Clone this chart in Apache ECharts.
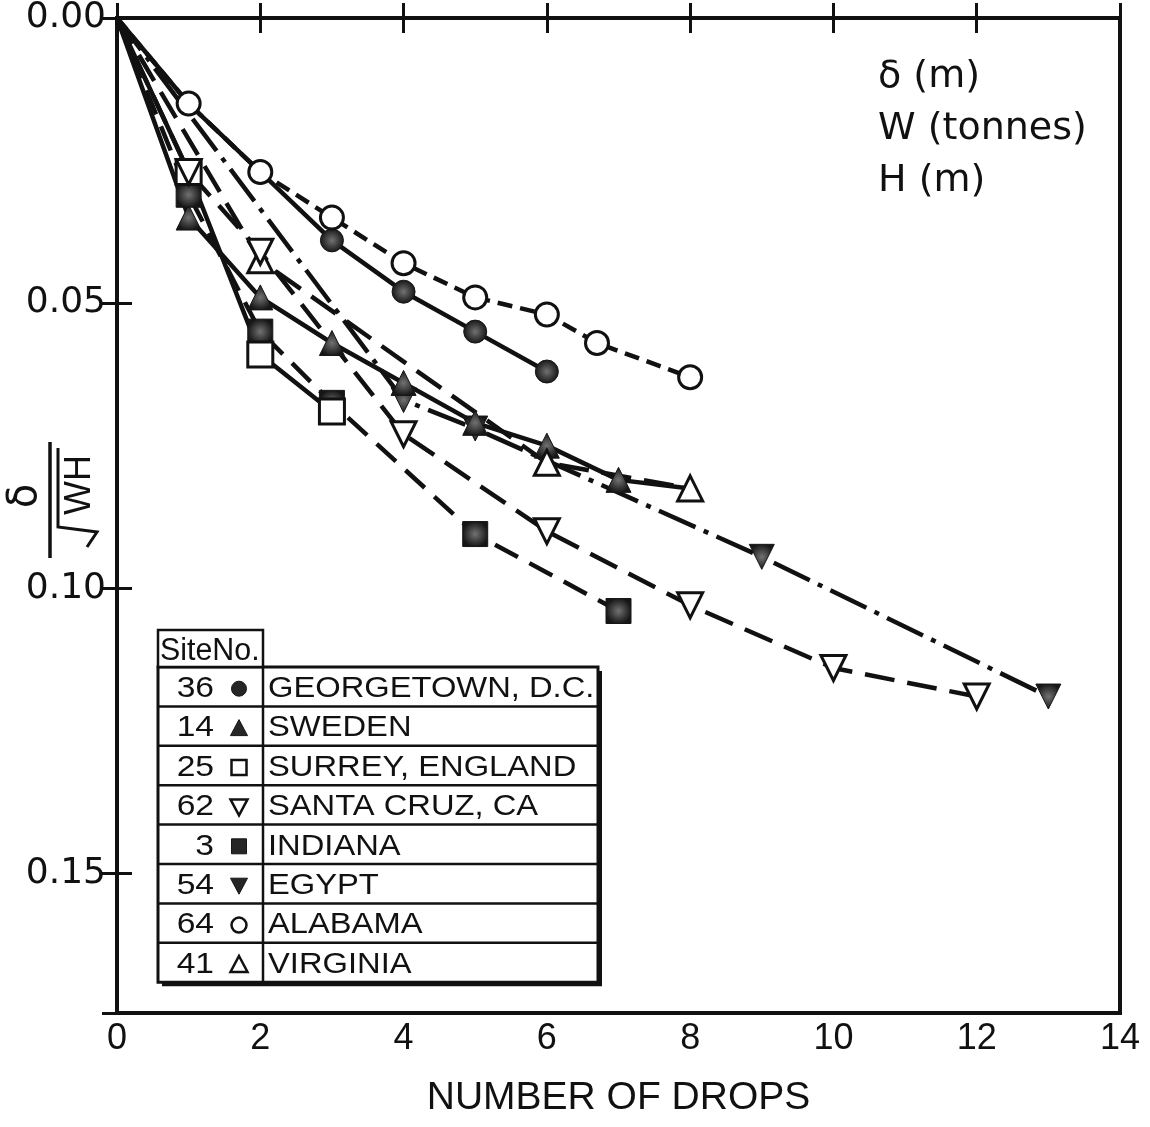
<!DOCTYPE html>
<html>
<head>
<meta charset="utf-8">
<script src="https://cdn.jsdelivr.net/npm/echarts@6/dist/echarts.min.js"></script>
<style>
html, body { margin: 0; padding: 0; background: #ffffff; }
#chart { width: 1150px; height: 1127px; }
</style>
</head>
<body>
<div id="chart"></div>
<script>
// Normalised settlement delta / sqrt(W*H) against number of drops, per site.
const xTicks = [0, 2, 4, 6, 8, 10, 12, 14];
const yTicks = [0.00, 0.05, 0.10, 0.15];

const siteNumbers = ['36', '14', '25', '62', '3', '54', '64', '41'];
const siteNames = ['GEORGETOWN, D.C.', 'SWEDEN', 'SURREY, ENGLAND', 'SANTA CRUZ, CA',
                   'INDIANA', 'EGYPT', 'ALABAMA', 'VIRGINIA'];

const georgetownDrops = [0, 1, 2, 3, 4, 5, 6];
const georgetownValues = [0, 0.015, 0.027, 0.039, 0.048, 0.055, 0.062];

const swedenDrops = [0, 1, 2, 3, 4, 5, 6, 7, 8];
const swedenValues = [0, 0.035, 0.049, 0.057, 0.064, 0.071, 0.075, 0.081, 0.0825];

const surreyDrops = [0, 1, 2, 3];
const surreyValues = [0, 0.027, 0.059, 0.069];

const santaCruzDrops = [0, 1, 2, 4, 6, 8, 10, 12];
const santaCruzValues = [0, 0.027, 0.041, 0.073, 0.090, 0.103, 0.114, 0.119];

const indianaDrops = [0, 1, 2, 3, 5, 7];
const indianaValues = [0, 0.031, 0.055, 0.0675, 0.0905, 0.104];

const egyptDrops = [0, 4, 5, 9, 13];
const egyptValues = [0, 0.067, 0.072, 0.0945, 0.119];

const alabamaDrops = [0, 1, 2, 3, 4, 5, 6, 6.7, 8];
const alabamaValues = [0, 0.015, 0.027, 0.035, 0.043, 0.049, 0.052, 0.057, 0.063];

const virginiaDrops = [0, 2, 6, 8];
const virginiaValues = [0, 0.0425, 0.078, 0.0825];

// ---- styling ----
const INK = '#111111';
const halftone = {
  type: 'radial', x: 0.5, y: 0.5, r: 0.5,
  colorStops: [
    { offset: 0, color: '#727272' },
    { offset: 0.6, color: '#3a3a3a' },
    { offset: 1, color: '#161616' }
  ]
};
const filled = { color: halftone, borderColor: '#161616', borderWidth: 1 };
const hollow = { color: '#ffffff', borderColor: INK, borderWidth: 3 };

const DASH_LONG = [30, 13];
const DASH_MED = [26, 13];
const DASH_SHORT = [15, 8];
const DASH_DOT = [40, 9, 5, 9];

function pairs(xs, ys) {
  return xs.map((x, i) => i === 0 ? { value: [x, ys[i]], symbol: 'none' } : [x, ys[i]]);
}

function site(name, xs, ys, symbol, rotate, item, dash) {
  return {
    name: name,
    type: 'line',
    data: pairs(xs, ys),
    symbol: symbol,
    symbolSize: symbol === 'circle' ? 23 : 25,
    symbolRotate: rotate,
    itemStyle: item,
    lineStyle: { color: INK, width: 4.5, type: dash },
    emphasis: { disabled: true },
    clip: false,
    z: 3
  };
}

const series = [
  site(siteNames[0], georgetownDrops, georgetownValues, 'circle', 0, filled, 'solid'),
  site(siteNames[6], alabamaDrops, alabamaValues, 'circle', 0, hollow, DASH_SHORT),
  site(siteNames[5], egyptDrops, egyptValues, 'triangle', 180, filled, DASH_DOT),
  site(siteNames[1], swedenDrops, swedenValues, 'triangle', 0, filled, 'solid'),
  site(siteNames[4], indianaDrops, indianaValues, 'rect', 0, filled, DASH_MED),
  site(siteNames[2], surreyDrops, surreyValues, 'rect', 0, hollow, 'solid'),
  site(siteNames[7], virginiaDrops, virginiaValues, 'triangle', 0, hollow, DASH_LONG),
  site(siteNames[3], santaCruzDrops, santaCruzValues, 'triangle', 180, hollow, DASH_LONG)
];

// ---- key table (site number, symbol, site name) ----
const table = { left: 158, right: 598, top: 667, rowH: 39.4, numX: 214, symX: 239, nameX: 268, divX: 263 };
const keySymbols = [
  { shape: 'circle', fill: true },
  { shape: 'up', fill: true },
  { shape: 'square', fill: false },
  { shape: 'down', fill: false },
  { shape: 'square', fill: true },
  { shape: 'down', fill: true },
  { shape: 'circle', fill: false },
  { shape: 'up', fill: false }
];

function keySymbol(k, cx, cy) {
  const style = k.fill ? { fill: '#262626', stroke: '#161616', lineWidth: 1 }
                       : { fill: '#ffffff', stroke: INK, lineWidth: 2.5 };
  const s = 7.5;
  if (k.shape === 'circle') return { type: 'circle', shape: { cx: cx, cy: cy, r: s }, style: style, z: 20 };
  if (k.shape === 'square') return { type: 'rect', shape: { x: cx - s, y: cy - s, width: 2 * s, height: 2 * s }, style: style, z: 20 };
  if (k.shape === 'up') return { type: 'polygon', shape: { points: [[cx, cy - s - 1], [cx + s + 1, cy + s], [cx - s - 1, cy + s]] }, style: style, z: 20 };
  return { type: 'polygon', shape: { points: [[cx - s - 1, cy - s], [cx + s + 1, cy - s], [cx, cy + s + 1]] }, style: style, z: 20 };
}

const keyGraphics = [];
const tableBottom = table.top + table.rowH * siteNames.length;
// drop shadow
keyGraphics.push({ type: 'rect', shape: { x: table.left + 4, y: table.top + 4, width: table.right - table.left, height: tableBottom - table.top },
  style: { fill: INK }, z: 18 });
keyGraphics.push({ type: 'rect', shape: { x: table.left, y: table.top, width: table.right - table.left, height: tableBottom - table.top },
  style: { fill: '#ffffff', stroke: INK, lineWidth: 3 }, z: 19 });
// header cell
keyGraphics.push({ type: 'rect', shape: { x: table.left, y: 630, width: table.divX - table.left, height: table.top - 630 },
  style: { fill: '#ffffff', stroke: INK, lineWidth: 2.5 }, z: 19 });
keyGraphics.push({ type: 'text', x: table.left + 2, y: 651, scaleX: 0.98,
  style: { text: 'SiteNo.', font: '31px "Liberation Sans"', fill: INK, align: 'left', verticalAlign: 'middle' }, z: 20 });
// column divider
keyGraphics.push({ type: 'line', shape: { x1: table.divX, y1: table.top, x2: table.divX, y2: tableBottom },
  style: { stroke: INK, lineWidth: 2.5 }, z: 20 });
for (let i = 0; i < siteNames.length; i++) {
  const cy = table.top + table.rowH * (i + 0.5);
  if (i > 0) {
    const ly = table.top + table.rowH * i;
    keyGraphics.push({ type: 'line', shape: { x1: table.left, y1: ly, x2: table.right, y2: ly },
      style: { stroke: INK, lineWidth: 2.5 }, z: 20 });
  }
  keyGraphics.push({ type: 'text', x: table.numX, y: cy + 2, scaleX: 1.12,
    style: { text: siteNumbers[i], font: '30px "Liberation Sans"', fill: INK, align: 'right', verticalAlign: 'middle' }, z: 20 });
  keyGraphics.push(keySymbol(keySymbols[i], table.symX, cy + 2));
  keyGraphics.push({ type: 'text', x: table.nameX, y: cy + 2, scaleX: 1.09,
    style: { text: siteNames[i], font: '30px "Liberation Sans"', fill: INK, align: 'left', verticalAlign: 'middle' }, z: 20 });
}

// units note, upper right
const unitLines = ['\u03b4 (m)', 'W (tonnes)', 'H (m)'];
const unitGraphics = unitLines.map((t, i) => ({
  type: 'text', x: 878, y: 77 + i * 52,
  style: { text: t, font: '38px "DejaVu Sans"', fill: INK, align: 'left', verticalAlign: 'middle' }, z: 20
}));

// rotated y-axis title: delta over sqrt(WH)
const yTitle = {
  type: 'group', x: 50, y: 500, rotation: Math.PI / 2, z: 20,
  children: [
    { type: 'text', x: 4, y: -24, style: { text: '\u03b4', font: '40px "DejaVu Sans"', fill: INK, align: 'center', verticalAlign: 'middle' } },
    { type: 'line', shape: { x1: -58, y1: 0, x2: 58, y2: 0 }, style: { stroke: INK, lineWidth: 3.5 } },
    { type: 'polyline', shape: { points: [[-47, 37], [-32, 47], [-27, 8], [52, 8]] }, style: { stroke: INK, lineWidth: 3, fill: null } },
    { type: 'text', x: 15, y: 30, style: { text: 'WH', font: '36px "Liberation Sans"', fill: INK, align: 'center', verticalAlign: 'middle' } }
  ]
};

const tickStyle = { inside: true, length: 15, lineStyle: { color: INK, width: 3 } };
const onTick = v => yTicks.some(t => Math.abs(t - v) < 1e-9);

const option = {
  backgroundColor: '#ffffff',
  animation: false,
  grid: { left: 117, right: 30, top: 16, bottom: 114, show: true, borderColor: INK, borderWidth: 4, backgroundColor: 'transparent' },
  xAxis: [
    {
      type: 'value', min: xTicks[0], max: xTicks[xTicks.length - 1], interval: 2, position: 'bottom',
      axisLine: { show: false }, axisTick: tickStyle, splitLine: { show: false },
      axisLabel: { fontSize: 36, fontFamily: 'Liberation Sans', color: INK, margin: 8 },
      name: 'NUMBER OF DROPS', nameLocation: 'middle', nameGap: 66,
      nameTextStyle: { fontSize: 39, fontFamily: 'Liberation Sans', color: INK }
    },
    {
      type: 'value', min: xTicks[0], max: xTicks[xTicks.length - 1], interval: 2, position: 'top',
      axisLine: { show: false }, axisTick: tickStyle, splitLine: { show: false }, axisLabel: { show: false }
    }
  ],
  yAxis: [
    {
      type: 'value', min: 0, max: 0.1745, interval: 0.05, inverse: true, position: 'left',
      axisLine: { show: false }, axisTick: tickStyle, splitLine: { show: false },
      axisLabel: { fontSize: 36, fontFamily: 'DejaVu Sans', color: INK, margin: 11,
                   formatter: v => onTick(v) ? v.toFixed(2) : '' }
    },
    {
      type: 'value', min: 0, max: 0.1745, interval: 0.05, inverse: true, position: 'right',
      axisLine: { show: false }, axisTick: tickStyle, splitLine: { show: false }, axisLabel: { show: false }
    }
  ],
  series: series,
  graphic: [yTitle].concat(unitGraphics, keyGraphics)
};

const chart = echarts.init(document.getElementById('chart'), null, { renderer: 'canvas' });
chart.setOption(option);
</script>
</body>
</html>
